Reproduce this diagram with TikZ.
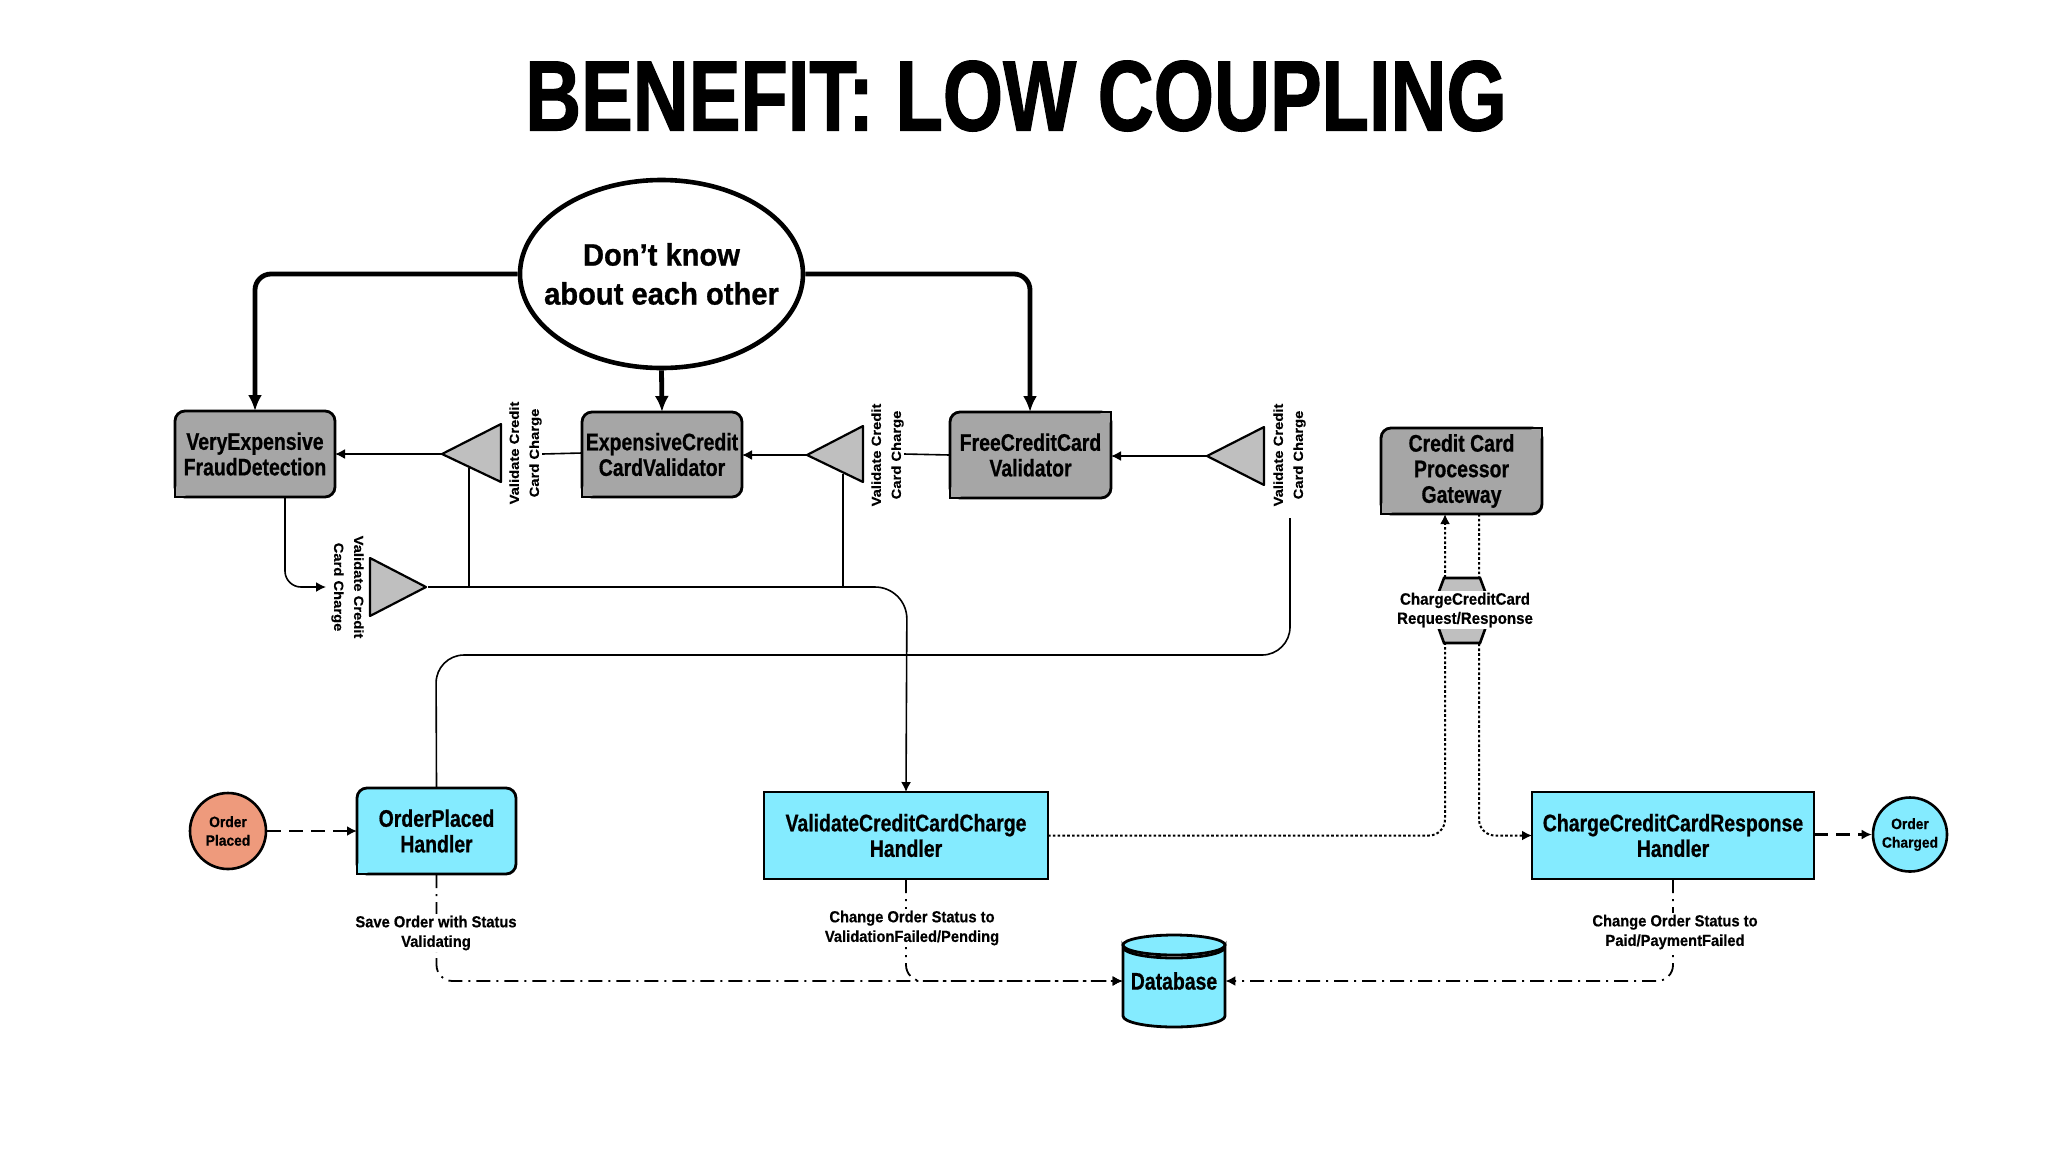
\documentclass[tikz,border=0pt]{standalone}
\usepackage{fontspec}
\usetikzlibrary{arrows.meta,shapes.geometric,calc}
\setmainfont{Liberation Sans}
\newfontfamily\titlefont[FakeStretch=0.775,FakeBold=1.2]{Liberation Sans Bold}
\newfontfamily\impactfont[FakeStretch=0.81,FakeBold=0.7]{Liberation Sans Bold}
\newfontfamily\ellipsefont[FakeStretch=0.94,FakeBold=0.9]{Liberation Sans Bold}
\newfontfamily\labelfont[FakeStretch=0.92,FakeBold=0.5]{Liberation Sans Bold}
\newfontfamily\widefont[FakeStretch=1.12,FakeBold=0.3]{Liberation Sans Bold}
\definecolor{boxgray}{HTML}{A6A6A6}
\definecolor{trigray}{HTML}{BFBFBF}
\definecolor{handlercyan}{HTML}{84EBFF}
\definecolor{salmon}{HTML}{EE9A7C}
\tikzset{
  x=0.5pt,y=-0.5pt,
  graybox/.style={draw=black,line width=1.4pt,outer sep=0pt,fill=boxgray,rounded corners=5pt,inner sep=0pt,align=center,font=\impactfont\fontsize{12}{12.8}\selectfont},
  cyanbox/.style={draw=black,line width=1.4pt,outer sep=0pt,fill=handlercyan,inner sep=0pt,align=center,font=\impactfont\fontsize{12}{12.8}\selectfont},
  tri/.style={draw=black,line width=1.1pt,fill=trigray,line join=round},
  rotlabel/.style={font=\widefont\fontsize{6.6}{10}\selectfont,align=center,inner sep=0pt},
  conn/.style={line width=0.8pt,rounded corners=8pt,-{Latex[length=5pt,width=5pt]}},
  plainconn/.style={line width=0.8pt,rounded corners=8pt},
  thickconn/.style={line width=2.4pt,rounded corners=8pt,-{Latex[length=8pt,width=7pt]}},
  dashconn/.style={line width=1.1pt,dash pattern=on 7pt off 4pt,-{Latex[length=5pt,width=5pt]}},
  dashdot/.style={line width=0.9pt,rounded corners=8pt,dash pattern=on 7pt off 3pt on 1pt off 3pt,-{Latex[length=5pt,width=5pt]}},
  dotconn/.style={line width=1pt,rounded corners=8pt,dash pattern=on 1.3pt off 1.1pt,-{Latex[length=5pt,width=5pt]}},
  smalllabel/.style={font=\labelfont\fontsize{8}{9.8}\selectfont,align=center,fill=white,inner sep=1pt},
  sqcorner/.style={line width=1.4pt,line cap=round},
}
\newcommand{\cornerBL}[2]{\draw[sqcorner,fill=#2] ($(#1.south west)+(0,-12)$) -- (#1.south west) -- ($(#1.south west)+(12,0)$);}
\newcommand{\cornerTR}[2]{\draw[sqcorner,fill=#2] ($(#1.north east)+(-12,0)$) -- (#1.north east) -- ($(#1.north east)+(0,12)$);}
\begin{document}
\begin{tikzpicture}
\useasboundingbox (0,0) rectangle (2048,1152);
\fill[white] (0,0) rectangle (2048,1152);
\node (title) at (1016,96) [inner sep=0pt,font=\titlefont\fontsize{50}{50}\selectfont] {BENEFIT: LOW COUPLING};

% top ellipse
\node (know) at (661.5,274) [draw=black,line width=2.3pt,ellipse,minimum width=141.5pt,minimum height=94pt,inner sep=0pt] {};
\node (knowtext) at (know.center) [inner sep=0pt,align=center,font=\ellipsefont\fontsize{15.5}{19.5}\selectfont] {Don’t know\\about each other};

% grey boxes
\node (fraud) at (255,454) [graybox,minimum width=80pt,minimum height=43pt] {VeryExpensive\\FraudDetection};
\node (expensive) at (662,454.5) [graybox,minimum width=80pt,minimum height=42.5pt] {ExpensiveCredit\\CardValidator};
\node (free) at (1030.5,455) [graybox,minimum width=80.5pt,minimum height=43pt] {FreeCreditCard\\Validator};
\node (gateway) at (1461.5,471) [graybox,minimum width=80.5pt,minimum height=43pt] {Credit Card\\Processor\\Gateway};
\cornerBL{fraud}{boxgray}
\cornerBL{expensive}{boxgray}
\cornerBL{free}{boxgray}
\cornerTR{free}{boxgray}
\cornerBL{gateway}{boxgray}
\cornerTR{gateway}{boxgray}

% triangles
\coordinate (t1tip) at (442,454);
\draw[tri] (t1tip) -- (501,424) -- (501,482) -- cycle;
\coordinate (t2tip) at (807,455);
\draw[tri] (t2tip) -- (863,426) -- (863,482) -- cycle;
\coordinate (t3tip) at (1207,456);
\draw[tri] (t3tip) -- (1264,427) -- (1264,485) -- cycle;
\coordinate (t4tip) at (426,587);
\draw[tri] (t4tip) -- (370,558) -- (370,616) -- cycle;

\node (l1) at (525.5,453) [rotlabel,rotate=90] {Validate Credit\\Card Charge};
\node (l2) at (887.5,455) [rotlabel,rotate=90] {Validate Credit\\Card Charge};
\node (l3) at (1289.5,455) [rotlabel,rotate=90] {Validate Credit\\Card Charge};
\node (l4) at (347.5,587) [rotlabel,rotate=-90] {Validate Credit\\Card Charge};

% handlers
\node (placed) at (436.5,831) [cyanbox,rounded corners=5pt,minimum width=79.5pt,minimum height=43pt] {OrderPlaced\\Handler};
\cornerBL{placed}{handlercyan}
\node (validate) at (906,835.5) [cyanbox,minimum width=142pt,minimum height=43.5pt] {ValidateCreditCardCharge\\Handler};
\node (response) at (1673,835.5) [cyanbox,minimum width=141pt,minimum height=43.5pt] {ChargeCreditCardResponse\\Handler};

\node (oplaced) at (228,831) [draw=black,line width=1.3pt,fill=salmon,circle,minimum size=38pt,inner sep=0pt,align=center,font=\labelfont\fontsize{7.5}{9.3}\selectfont] {Order\\Placed};
\node (ocharged) at (1910,834.5) [draw=black,line width=1.3pt,fill=handlercyan,circle,minimum size=37pt,inner sep=0pt,align=center,font=\labelfont\fontsize{7.5}{9.3}\selectfont] {Order\\Charged};

% database
\node (db) at (1174,981) [inner sep=0pt,minimum width=51pt,minimum height=47.5pt] {};
\draw[line width=1.4pt,fill=handlercyan] (1123,947) -- (1123,1016) arc[start angle=180,end angle=360,x radius=51,y radius=-11] -- (1225,947) arc[start angle=0,end angle=-180,x radius=51,y radius=-11] -- cycle;
\draw[line width=1.4pt,fill=handlercyan] (1174,945) ellipse[x radius=51,y radius=10];
\node at (db) [inner sep=0pt,font=\impactfont\fontsize{12}{14}\selectfont] {Database};

% thick connectors
\draw[thickconn] (know.west |- 0,274) -- (255,274) -- (255,411);
\draw[thickconn] (know.east |- 0,274) -- (1030,274) -- (1030,412);
\draw[thickconn] (know.south) -- (expensive.north);

% connectors among triangles and boxes
\draw[conn] (t1tip) -- (fraud.east |- t1tip);
\draw[plainconn] (expensive.west |- l1) -- (l1.south |- 0,454);
\draw[conn] (t2tip) -- (expensive.east |- t2tip);
\draw[plainconn] (free.west |- l2) -- (l2.south |- 0,454);
\draw[conn] (t3tip) -- (free.east |- t3tip);
\draw[conn] (285,497) -- (285,587) -- (326,587);
\coordinate (up1) at (469,587);
\coordinate (up2) at (843,587);
\draw[plainconn] (up1) -- (469,468);
\draw[plainconn] (up2) -- (843,474);
\draw[conn,rounded corners=16pt] (428,587) -- (907,587) -- (validate.north);
\coordinate (l3foot) at (1290,518);
\draw[plainconn,rounded corners=14pt] (placed.north) -- (436,655) -- (1290,655) -- (l3foot);

% order events
\draw[dashconn] (oplaced) -- (placed);
\draw[dashconn] (response.east |- ocharged) -- (ocharged.west);

% database connectors
\draw[dashdot] (placed.south) -- (436.5,981) -- (db.west);
\draw[dashdot] (validate.south) -- (906,981) -- (db.west);
\draw[dashdot] (response.south) -- (1673,981) -- (db.east);

% gateway dotted
\draw[dotconn] (validate.east) -- (1445,835.5) -- (1445,514);
\draw[dotconn] (1479,514) -- (1479,835.5) -- (response.west);

% hexagon
\coordinate (hexc) at (1462,610);
\draw[line width=1.3pt,fill=trigray] (1444,578) -- (1480,578) -- (1492,610) -- (1480,643) -- (1444,643) -- (1432,610) -- cycle;
\node (hexlabel) at (1465,610) [smalllabel,font=\labelfont\fontsize{8.2}{9.6}\selectfont] {ChargeCreditCard\\Request/Response};

% labels
\node at (436,933) [smalllabel] {Save Order with Status\\Validating};
\node at (912,928) [smalllabel] {Change Order Status to\\ValidationFailed/Pending};
\node at (1675,932) [smalllabel] {Change Order Status to\\Paid/PaymentFailed};
\end{tikzpicture}
\end{document}
